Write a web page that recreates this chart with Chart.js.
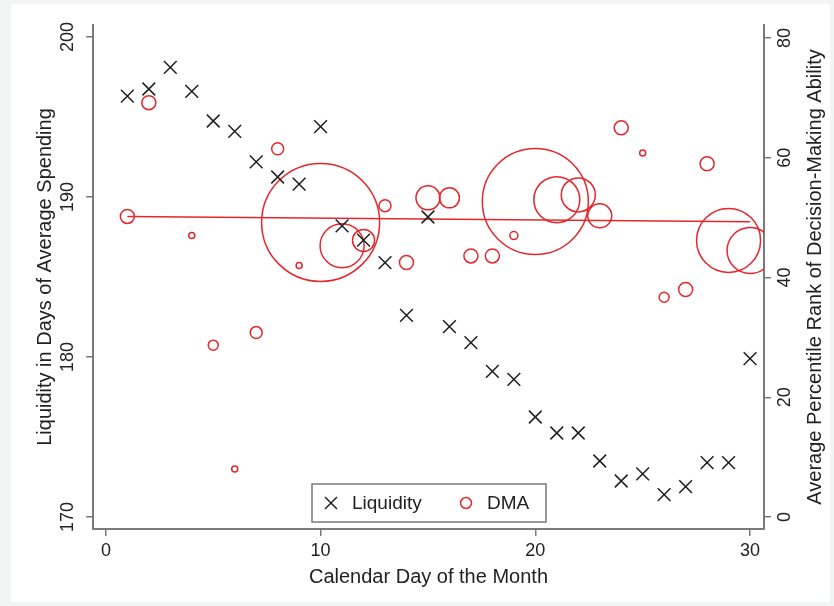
<!DOCTYPE html>
<html>
<head>
<meta charset="utf-8">
<script src="https://cdn.jsdelivr.net/npm/chart.js@4.4.1/dist/chart.umd.min.js"></script>
<style>
  html, body { margin: 0; padding: 0; background: #f3f4f4; }
  #wrap { width: 834px; height: 606px; }
</style>
</head>
<body>
<div id="wrap"><canvas id="chart" width="834" height="606"></canvas></div>
<script>
// calendar days and liquidity (left axis)
const days = [1,2,3,4,5,6,7,8,9,10,11,12,13,14,15,16,17,18,19,20,21,22,23,24,25,26,27,28,29,30];
const liquidity = [196.3,196.75,198.1,196.6,194.75,194.1,192.2,191.25,190.8,194.4,188.2,187.3,185.9,182.6,188.75,181.9,180.9,179.1,178.6,176.25,175.25,175.25,173.5,172.25,172.7,171.4,171.9,173.4,173.4,179.9];

// DMA percentile rank (right axis), bubble size = weight
const dmaDays = [1,2,4,5,6,7,8,9,10,11,12,13,14,15,16,17,18,19,20,21,22,23,24,25,26,27,28,29,30];
const dma = [50.2,69.2,47.0,28.7,8.0,30.8,61.5,42.0,49.2,45.3,46.2,52.0,42.5,53.3,53.3,43.6,43.6,47.0,52.7,53.0,53.8,50.3,65.0,60.8,36.7,38.0,59.0,46.2,44.5];
const dmaSize = [7,7,3,5,3,6,6,3,59,22,11,6,7,12,10,7,7,4,53,23,17,12,7,3,5,7,7,32,23];

// fitted line for DMA
const fitDays = [1, 30];
const fitDma = [50.2, 49.3];

const xTicks = [0, 10, 20, 30];
const yTicks = [170, 180, 190, 200];
const y1Ticks = [0, 20, 40, 60, 80];

const red = '#e5262c';
const axisGray = '#7a7a7a';
const family = "'Liberation Sans', Arial, sans-serif";
const font = { family, size: 18 };
const titleFont = { family, size: 20 };

const frame = {
    id: 'frame',
    beforeDraw(chart) {
        const ctx = chart.ctx;
        ctx.save();
        ctx.fillStyle = '#f3f4f4';
        ctx.fillRect(0, 0, chart.width, chart.height);
        ctx.fillStyle = '#ffffff';
        ctx.fillRect(11, 4, 819, 598);
        ctx.restore();
    },
    afterDraw(chart) {
        const ctx = chart.ctx;
        const y1 = chart.scales.y1;
        ctx.save();
        ctx.font = `${titleFont.size}px ${family}`;
        ctx.fillStyle = '#222';
        // right axis title, reading bottom to top
        ctx.translate(815, (y1.top + y1.bottom) / 2);
        ctx.rotate(-Math.PI / 2);
        ctx.textAlign = 'center';
        ctx.textBaseline = 'middle';
        ctx.fillText('Average Percentile Rank of Decision-Making Ability', 0, 0);
        ctx.restore();

        // legend box
        ctx.save();
        ctx.fillStyle = '#fff';
        ctx.strokeStyle = axisGray;
        ctx.lineWidth = 1.5;
        ctx.fillRect(312, 484, 234, 38);
        ctx.strokeRect(312, 484, 234, 38);
        ctx.strokeStyle = '#222';
        ctx.beginPath();
        ctx.moveTo(325, 497); ctx.lineTo(337, 509);
        ctx.moveTo(337, 497); ctx.lineTo(325, 509);
        ctx.stroke();
        ctx.strokeStyle = red;
        ctx.beginPath();
        ctx.arc(466, 503, 5.5, 0, Math.PI * 2);
        ctx.stroke();
        ctx.font = `19px ${family}`;
        ctx.fillStyle = '#222';
        ctx.textBaseline = 'middle';
        ctx.fillText('Liquidity', 352, 504);
        ctx.fillText('DMA', 487, 504);
        ctx.restore();
    }
};

const axisGrid = { display: true, drawOnChartArea: false, drawTicks: true, tickLength: 7, color: axisGray, lineWidth: 1.5 };
const axisBorder = { display: true, color: axisGray, width: 2 };

function fixVertical(width) {
    return s => {
        s.width = width;
        s.paddingTop = 0;
        s.paddingBottom = 0;
    };
}

new Chart(document.getElementById('chart'), {
    data: {
        datasets: [
            {
                type: 'scatter',
                label: 'Liquidity',
                data: days.map((d, i) => ({ x: d, y: liquidity[i] })),
                yAxisID: 'y',
                pointStyle: 'crossRot',
                pointRadius: 9,
                borderColor: '#1e1e1e',
                borderWidth: 1.5,
                backgroundColor: 'transparent'
            },
            {
                type: 'line',
                label: 'Fit',
                data: fitDays.map((d, i) => ({ x: d, y: fitDma[i] })),
                yAxisID: 'y1',
                borderColor: red,
                borderWidth: 1.5,
                pointRadius: 0,
                fill: false
            },
            {
                type: 'bubble',
                label: 'DMA',
                data: dmaDays.map((d, i) => ({ x: d, y: dma[i], r: dmaSize[i] })),
                yAxisID: 'y1',
                borderColor: red,
                borderWidth: 1.5,
                backgroundColor: 'transparent'
            }
        ]
    },
    options: {
        responsive: false,
        animation: false,
        devicePixelRatio: 1,
        layout: { autoPadding: false, padding: { left: 0, right: 0, top: 25, bottom: 0 } },
        plugins: { legend: { display: false }, tooltip: { enabled: false } },
        scales: {
            x: {
                type: 'linear',
                position: 'bottom',
                min: -0.6,
                max: 30.65,
                afterBuildTicks: s => { s.ticks = xTicks.map(v => ({ value: v })); },
                afterFit: s => { s.height = 77; s.paddingLeft = 0; s.paddingRight = 0; },
                grid: axisGrid,
                border: axisBorder,
                ticks: { font, color: '#222', padding: 4 },
                title: { display: true, text: 'Calendar Day of the Month', font: titleFont, color: '#222', padding: { top: 0, bottom: 17 } }
            },
            y: {
                type: 'linear',
                position: 'left',
                min: 169.25,
                max: 200.75,
                afterBuildTicks: s => { s.ticks = yTicks.map(v => ({ value: v })); },
                afterFit: fixVertical(93),
                grid: axisGrid,
                border: axisBorder,
                ticks: { font, color: '#222', minRotation: 90, maxRotation: 90, crossAlign: 'center', padding: 3 },
                title: { display: true, text: 'Liquidity in Days of Average Spending', font: titleFont, color: '#222', padding: { top: 33, bottom: 0 } }
            },
            y1: {
                type: 'linear',
                position: 'right',
                min: -2.0,
                max: 82.17,
                afterBuildTicks: s => { s.ticks = y1Ticks.map(v => ({ value: v })); },
                afterFit: fixVertical(70),
                grid: axisGrid,
                border: axisBorder,
                ticks: { font, color: '#222', minRotation: 90, maxRotation: 90, crossAlign: 'center', padding: 4 }
            }
        }
    },
    plugins: [frame]
});
</script>
</body>
</html>
